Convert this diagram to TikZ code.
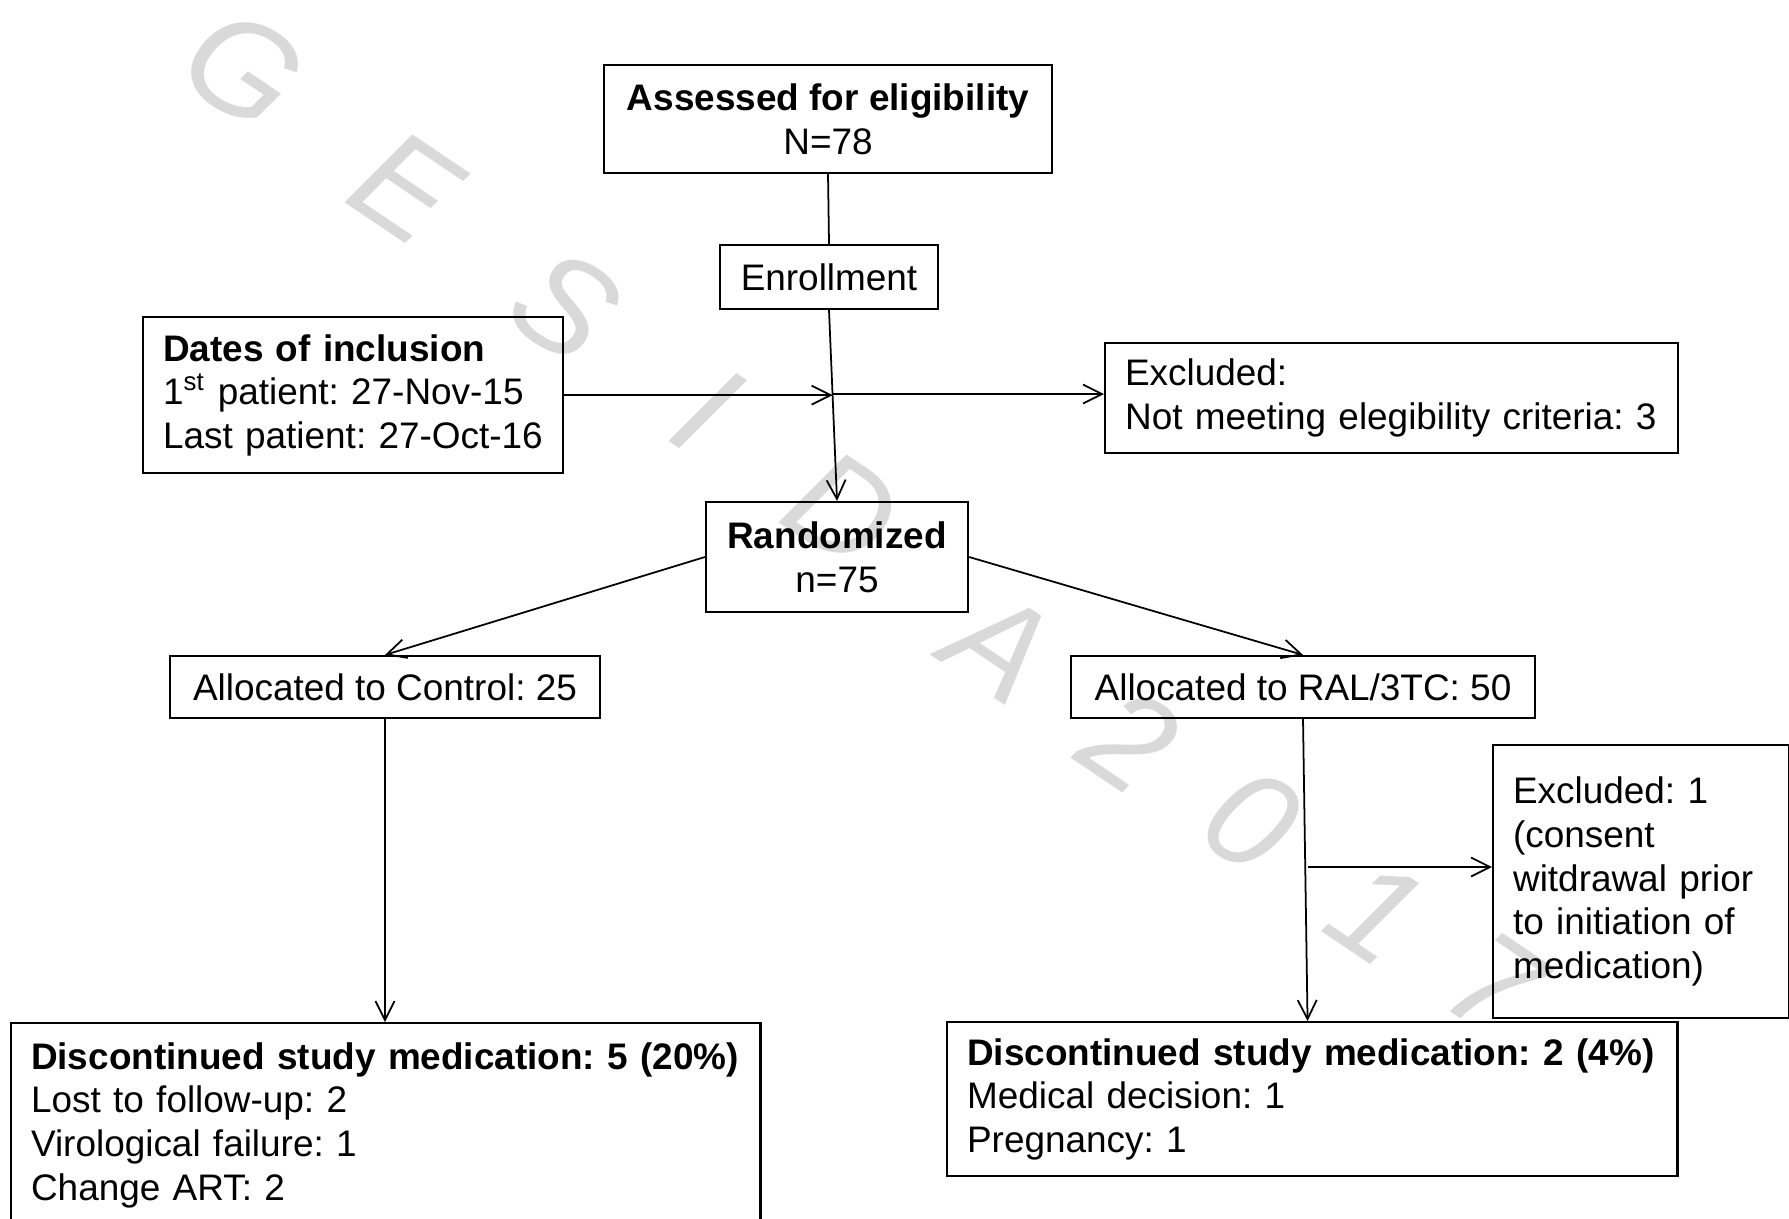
\documentclass[tikz,border=0pt]{standalone}
\usepackage{fontspec}
\setmainfont{Liberation Sans}
\usetikzlibrary{arrows.meta,calc}

\begin{document}
\begin{tikzpicture}[x=0.01cm,y=-0.01cm,>={Straight Barb[length=5.4pt,width=5.4pt]},
 font=\fontsize{10.5}{12.4}\selectfont\frenchspacing,
 box/.style={draw,line width=0.6pt,inner sep=0pt,align=center},
 lbox/.style={draw,line width=0.6pt,inner xsep=0.2cm,inner ysep=0pt,align=left,anchor=north west},
 wmark/.style={text=gray!30,font=\fontsize{39}{39}\selectfont\itshape,rotate=-34,inner sep=0pt},
 link/.style={line width=0.5pt}]
\useasboundingbox (0,0) rectangle (1789,1218);
\foreach \ch/\px/\py in {G/243/68,E/406/187,S/565/305,I/707/410,D/843/509,A/1000/645,2/1130/740,0/1251/820,1/1376/912,7/1494/985}
 \node[wmark] (w\ch) at (\px,\py) {\ch};
\node[box,minimum width=4.47cm,minimum height=1.08cm] (assess) at (828,119) {\textbf{Assessed for eligibility}\\N=78};
\node[box,minimum width=2.18cm,minimum height=0.64cm] (enroll) at (829,277) {Enrollment};
\node[box,minimum width=2.62cm,minimum height=1.10cm] (rand) at (837,557) {\textbf{Randomized}\\n=75};
\node[box,minimum width=4.30cm,minimum height=0.62cm] (ctrl) at (385,687) {Allocated to Control: 25};
\node[box,minimum width=4.64cm,minimum height=0.62cm] (ral) at (1303,687) {Allocated to RAL/3TC: 50};
\node[lbox,text width=3.8cm,minimum height=1.56cm] (dates) at (142,316) {\textbf{Dates of inclusion}\\1\textsuperscript{st} patient: 27-Nov-15\\Last patient: 27-Oct-16};
\node[lbox,text width=5.33cm,minimum height=1.10cm] (excl) at (1104,342) {Excluded:\\Not meeting elegibility criteria: 3};
\node[lbox,text width=2.56cm,minimum height=2.73cm] (excl2) at (1492,744) {Excluded: 1\\(consent\\witdrawal prior\\to initiation of\\medication)};
\node[lbox,text width=7.09cm,minimum height=2.04cm] (discL) at (10,1022) {\textbf{Discontinued study medication: 5 (20\%)}\\Lost to follow-up: 2\\Virological failure: 1\\Change ART: 2};
\node[lbox,text width=6.9cm,minimum height=1.54cm] (discR) at (946,1021) {\textbf{Discontinued study medication: 2 (4\%)}\\Medical decision: 1\\Pregnancy: 1};
\coordinate (join) at ($(enroll.south)!0.44!(rand.north)$);
\coordinate (split) at ($(ral.south)!0.49!(discR.north)$);
\draw[link] (assess.south) -- (enroll.north);
\draw[link,->] (enroll.south) -- (rand.north);
\draw[link,->] (dates.east) -- (dates.east -| join);
\draw[link,->] (join) -- (join -| excl.west);
\draw[link,->] (rand.west) -- (ctrl.north);
\draw[link,->] (rand.east) -- (ral.north);
\draw[link,->] (ctrl.south) -- (discL.north -| ctrl.south);
\draw[link,->] (ral.south) -- (discR.north -| split);
\draw[link,->] (split) -- (split -| excl2.west);
\end{tikzpicture}
\end{document}
